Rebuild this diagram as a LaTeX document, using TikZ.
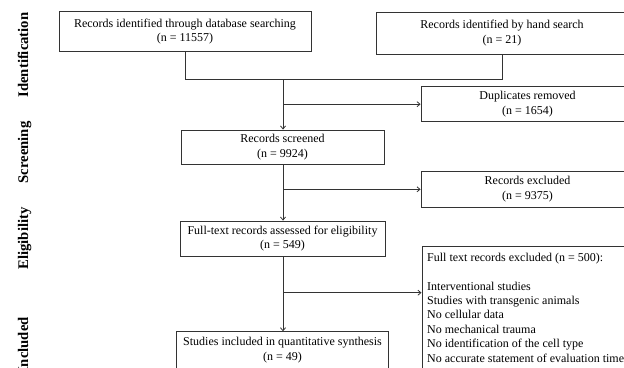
\documentclass[tikz,border=0pt]{standalone}
\usepackage{fontspec}
\setmainfont{Liberation Serif}
\usetikzlibrary{arrows.meta,calc}
\begin{document}
\begin{tikzpicture}[x=1pt,y=-1pt,
  box/.style={draw=black!80, line width=0.8pt, rectangle, align=center, inner sep=0pt,
    font=\fontsize{12}{14.8}\selectfont},
  conn/.style={draw=black!80, line width=0.8pt},
  arr/.style={conn, -{Straight Barb[length=3pt,width=5pt]}},
  phase/.style={rotate=90, anchor=base, font=\fontsize{14.7}{16}\selectfont\bfseries}]
\path[use as bounding box] (0,0) rectangle (624,367);
\clip (0,0) rectangle (624,367);

% phase labels
\node[phase] (lid) at (28,55) {Identification};
\node[phase] (lsc) at (28,152.5) {Screening};
\node[phase] (lel) at (28,238.5) {Eligibility};
\node[phase] (lin) at (28,345) {Included};

% boxes
\node[box, minimum width=252pt, minimum height=39.5pt] (db) at (185,31.5)
  {Records identified through database searching\\(n = 11557)};
\node[box, minimum width=252pt, minimum height=42pt] (hand) at (502,33)
  {Records identified by hand search\\(n = 21)};
\node[box, minimum width=213pt, minimum height=35pt] (dup) at (527.5,104.2)
  {Duplicates removed\\(n = 1654)};
\node[box, minimum width=203pt, minimum height=34.5pt] (screened) at (282.5,147.2)
  {Records screened\\(n = 9924)};
\node[box, minimum width=213pt, minimum height=35.3pt] (excl) at (527.5,189.3)
  {Records excluded\\(n = 9375)};
\node[box, minimum width=205pt, minimum height=35pt] (full) at (282.5,238.5)
  {Full-text records assessed for eligibility\\(n = 549)};
\node[box, minimum width=220pt, minimum height=140pt, anchor=north west] (bigbox) at (421.5,246) {};
\node[anchor=north west, align=left, inner sep=0pt, font=\fontsize{12}{14.4}\selectfont] (bigtext)
  at ($(bigbox.north west)+(5.5,6.7)$)
  {Full text records excluded (n = 500):\\[14.4pt]
   Interventional studies\\
   Studies with transgenic animals\\
   No cellular data\\
   No mechanical trauma\\
   No identification of the cell type\\
   No accurate statement of evaluation time};
\node[box, minimum width=212pt, minimum height=37pt] (studies) at (282.5,350.2)
  {Studies included in quantitative synthesis\\(n = 49)};

% connectors
\coordinate (mid) at (283,79);
\draw[conn] (db.south) -- (db.south |- mid) -- (hand.south |- mid) -- (hand.south);
\draw[arr] (mid) -- (mid |- screened.north);
\draw[arr] (mid |- dup.west) -- (dup.west);
\draw[arr] (mid |- screened.south) -- (mid |- full.north);
\draw[arr] (mid |- excl.west) -- (excl.west);
\coordinate (b3) at (283,292.7);
\draw[arr] (mid |- full.south) -- (mid |- studies.north);
\draw[arr] (b3) -- (b3 -| bigbox.west);
\end{tikzpicture}
\end{document}
